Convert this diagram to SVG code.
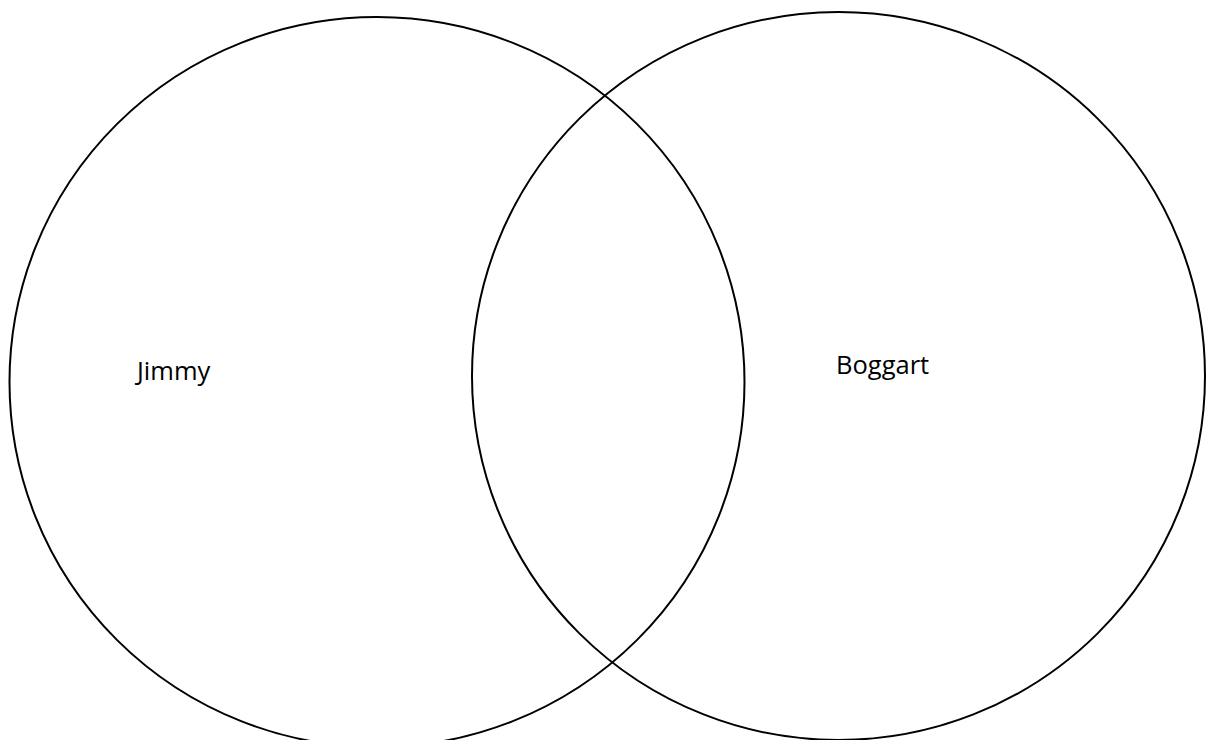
<svg xmlns="http://www.w3.org/2000/svg" width="1206" height="740" viewBox="0 0 1206 740">
<style>
.c{fill:none;stroke:#000;stroke-width:2}
.t{font-family:"Open Sans","Liberation Sans",sans-serif;font-size:25.5px;fill:#000}
</style>
<rect width="1206" height="740" fill="#fff"/>
<g id="jimmy">
<ellipse class="c" cx="377" cy="382" rx="367.5" ry="365"/>
<text class="t" x="137" y="380">Jimmy</text>
</g>
<g id="boggart">
<ellipse class="c" cx="838.5" cy="376" rx="366.5" ry="364"/>
<text class="t" x="836" y="374">Boggart</text>
</g>
<g id="connectors"></g>
</svg>
